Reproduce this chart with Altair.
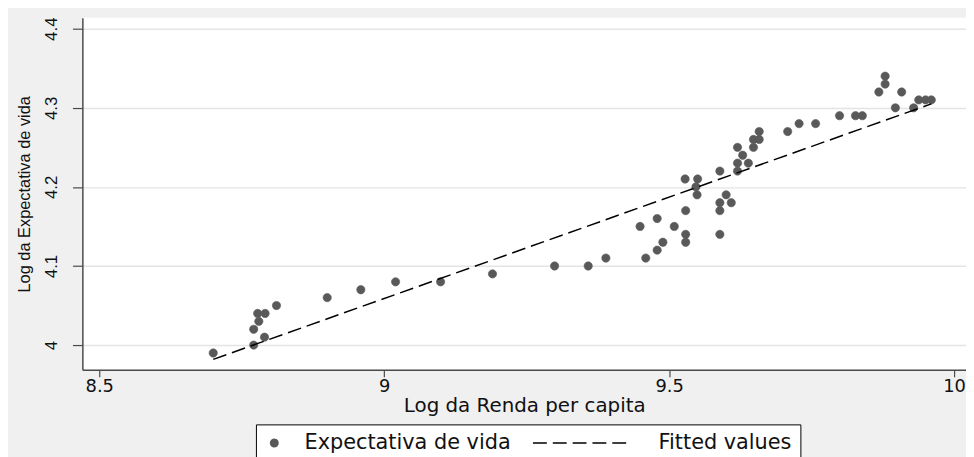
import altair as alt
import pandas as pd

# ---- data ----
renda = [8.700, 8.771, 8.790, 8.771, 8.780, 8.778, 8.791, 8.811, 8.900, 8.959,
         9.020, 9.099, 9.190, 9.299, 9.358, 9.389, 9.449, 9.459, 9.479, 9.479,
         9.489, 9.509, 9.529, 9.529, 9.529, 9.528, 9.550, 9.547, 9.549, 9.589,
         9.600, 9.589, 9.609, 9.589, 9.589, 9.620, 9.629, 9.620, 9.639, 9.620,
         9.648, 9.648, 9.658, 9.658, 9.708, 9.728, 9.757, 9.799, 9.827, 9.839,
         9.868, 9.879, 9.879, 9.908, 9.897, 9.929, 9.938, 9.950, 9.960]
expectativa = [3.99, 4.00, 4.01, 4.02, 4.03, 4.04, 4.04, 4.05, 4.06, 4.07,
               4.08, 4.08, 4.09, 4.10, 4.10, 4.11, 4.15, 4.11, 4.16, 4.12,
               4.13, 4.15, 4.17, 4.14, 4.13, 4.21, 4.21, 4.20, 4.19, 4.22,
               4.19, 4.18, 4.18, 4.17, 4.14, 4.25, 4.24, 4.23, 4.23, 4.22,
               4.25, 4.26, 4.26, 4.27, 4.27, 4.28, 4.28, 4.29, 4.29, 4.29,
               4.32, 4.33, 4.34, 4.32, 4.30, 4.30, 4.31, 4.31, 4.31]
fit_x = [8.700, 9.960]
fit_y = [3.982, 4.305]
series = ["Expectativa de vida", "Fitted values"]
x_ticks = [8.5, 9, 9.5, 10]
y_ticks = [4.0, 4.1, 4.2, 4.3, 4.4]

pts = pd.DataFrame({"x": renda, "y": expectativa, "serie": series[0]})
fit = pd.DataFrame({"x": fit_x, "y": fit_y, "serie": series[1]})

HF = "DejaVu Sans"        # horizontal text (reference is stretched horizontally)
VF = "Liberation Sans"    # rotated text
DOT = "#595959"
AX = "#4a4a4a"
DASH = [14, 6]

xscale = alt.Scale(domain=[8.4704, 10.0209], nice=False, zero=False)
yscale = alt.Scale(domain=[3.9687, 4.4138], nice=False, zero=False)

xaxis = alt.Axis(values=x_ticks, format="~g", grid=False, title="Log da Renda per capita",
                 domainColor=AX, domainWidth=1.5, tickColor=AX, tickWidth=1.2, tickSize=7,
                 labelFont=HF, labelFontSize=18, labelColor="#111111", labelPadding=1,
                 labelFlush=False,
                 titleFont=HF, titleFontSize=20, titleFontWeight="normal", titleColor="#111111",
                 titlePadding=0)
yaxis = alt.Axis(values=y_ticks, format="~g", grid=True, gridColor="#e4e4e4", gridWidth=1.5,
                 title="Log da Expectativa de vida",
                 domainColor=AX, domainWidth=1.5, tickColor=AX, tickWidth=1.2, tickSize=10,
                 labelFont=VF, labelFontSize=17, labelColor="#111111", labelAngle=270,
                 labelAlign="center", labelBaseline="bottom", labelPadding=12, labelFlush=False,
                 titleFont=VF, titleFontSize=16.5, titleFontWeight="normal", titleColor="#111111",
                 titlePadding=10)

legend = alt.Legend(
    orient="none", legendX=175, legendY=410, direction="horizontal", title=None,
    strokeColor="#000000", fillColor="#ffffff", padding=8, cornerRadius=0,
    labelFont=HF, labelFontSize=21, labelColor="#111111", labelOffset=20, labelLimit=500,
    columnPadding=18, symbolSize=56, symbolStrokeWidth=1.5,
)
dom = series
fill_enc = alt.Fill("serie:N", scale=alt.Scale(domain=dom, range=[DOT, "transparent"]), legend=legend)
stroke_enc = alt.Stroke("serie:N", scale=alt.Scale(domain=dom, range=[DOT, "#000000"]), legend=legend)
shape_enc = alt.Shape("serie:N", scale=alt.Scale(domain=dom, range=["circle", "M-25.7,0L1,0"]), legend=legend)
dash_enc = alt.StrokeDash("serie:N", scale=alt.Scale(domain=dom, range=[[1, 0], DASH]), legend=legend)

points = alt.Chart(pts).mark_point(filled=True, size=70, opacity=1, strokeWidth=0.6).encode(
    x=alt.X("x:Q", scale=xscale, axis=xaxis),
    y=alt.Y("y:Q", scale=yscale, axis=yaxis),
    fill=fill_enc,
    stroke=stroke_enc,
    shape=shape_enc,
)
line = alt.Chart(fit).mark_line(strokeWidth=1.5).encode(
    x=alt.X("x:Q", scale=xscale),
    y=alt.Y("y:Q", scale=yscale),
    stroke=stroke_enc,
    strokeDash=dash_enc,
)

chart = alt.layer(points, line).properties(
    width=891, height=355,
    background="#f0f0f0",
    padding={"left": 75, "top": 8, "right": 0, "bottom": 86},
    autosize=alt.AutoSizeParams(type="none"),
).configure_view(fill="white", stroke=None)

chart.save("out.html", embed_options={"renderer": "svg", "actions": False})
